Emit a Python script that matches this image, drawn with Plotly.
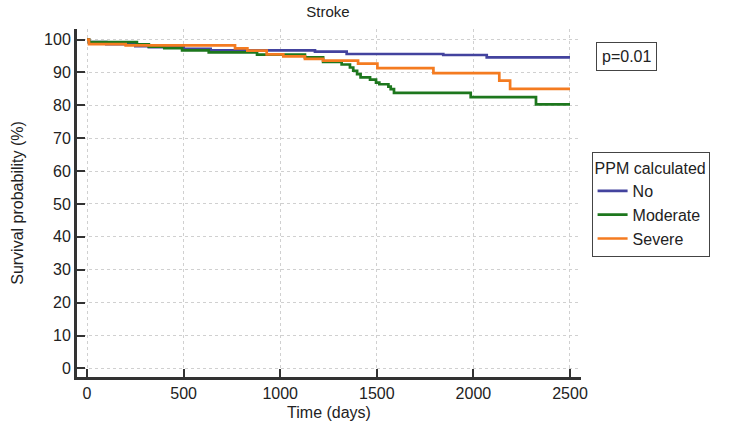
import plotly.graph_objects as go

# Kaplan-Meier step data (time in days, survival %)
no_time = [0, 10, 100, 250, 320, 500, 640, 1180, 1344, 1844, 2069, 2500]
no_surv = [100, 99.2, 98.6, 98.0, 97.7, 97.2, 96.7, 96.3, 95.6, 95.3, 94.6, 94.6]

mod_time = [0, 10, 258, 320, 400, 492, 630, 880, 1128, 1222, 1318, 1361, 1378, 1398,
            1416, 1465, 1496, 1513, 1560, 1572, 1589, 1986, 2324, 2500]
mod_surv = [100, 99.2, 98.5, 97.8, 97.4, 96.7, 96.1, 95.4, 94.6, 93.2, 92.4, 91.5, 90.5, 89.5,
            88.5, 87.8, 86.9, 86.4, 85.7, 84.9, 83.8, 82.5, 80.3, 80.3]

sev_time = [0, 10, 200, 766, 830, 930, 1016, 1128, 1222, 1403, 1503, 1793, 2134, 2190, 2500]
sev_surv = [100, 98.6, 98.2, 97.3, 96.6, 95.5, 94.9, 94.1, 93.6, 92.7, 91.3, 89.8, 87.5, 85.0, 85.0]

group_names = ["No", "Moderate", "Severe"]
colors = ["#43439e", "#1d771d", "#f47b20"]

x_ticks = [0, 500, 1000, 1500, 2000, 2500]
y_ticks = [0, 10, 20, 30, 40, 50, 60, 70, 80, 90, 100]

fig = go.Figure()
for name, t, s, c in zip(group_names, [no_time, mod_time, sev_time],
                         [no_surv, mod_surv, sev_surv], colors):
    fig.add_trace(go.Scatter(x=t, y=s, mode="lines", name=name,
                             line=dict(color=c, width=2.7, shape="hv")))

font_family = "Liberation Sans, Arial, sans-serif"
L, R, T, B = 77, 155, 29, 50
fig.update_layout(
    width=736, height=427,
    margin=dict(l=L, r=R, t=T, b=B, autoexpand=False),
    paper_bgcolor="white", plot_bgcolor="white",
    font=dict(family=font_family, size=16, color="#222222"),
    title=dict(text="Stroke", x=328 / 736, xanchor="center",
               y=1 - 12 / 427, yanchor="middle", automargin=False,
               font=dict(size=15, color="#222222")),
    xaxis=dict(range=[-52, 2557], tickvals=x_ticks, ticks="inside", ticklen=8,
               tickwidth=2, tickcolor="#333333", showline=True, linewidth=3,
               linecolor="#333333", showgrid=True, gridcolor="#d0d0d0",
               griddash="dot", gridwidth=1, zeroline=False, automargin=False,
               title=dict(text="Time (days)", standoff=6, font=dict(size=16)),
               tickfont=dict(size=16)),
    yaxis=dict(range=[-2.6, 103.2], tickvals=y_ticks, ticks="inside", ticklen=8,
               tickwidth=2, tickcolor="#333333", showline=True, linewidth=3,
               linecolor="#333333", showgrid=True, gridcolor="#d0d0d0",
               griddash="dot", gridwidth=1, zeroline=False, automargin=False,
               title=dict(text="Survival probability (%)", standoff=17, font=dict(size=16)),
               tickfont=dict(size=16)),
    legend=dict(title=dict(text="PPM calculated", font=dict(size=16)),
                x=1.021, y=0.646, xanchor="left", yanchor="top",
                bordercolor="#444444", borderwidth=1, bgcolor="white",
                font=dict(size=16), tracegroupgap=0, itemwidth=30),
    annotations=[dict(text="p=0.01", xref="paper", yref="paper", x=1.091, y=0.922,
                      xanchor="center", yanchor="middle", showarrow=False,
                      bordercolor="#444444", borderwidth=1, borderpad=5,
                      font=dict(size=16, color="#222222"))],
)

fig.write_html("out.html",
               config={"displayModeBar": False},
               post_script="document.body.style.margin='0px';document.body.style.overflow='hidden';")
